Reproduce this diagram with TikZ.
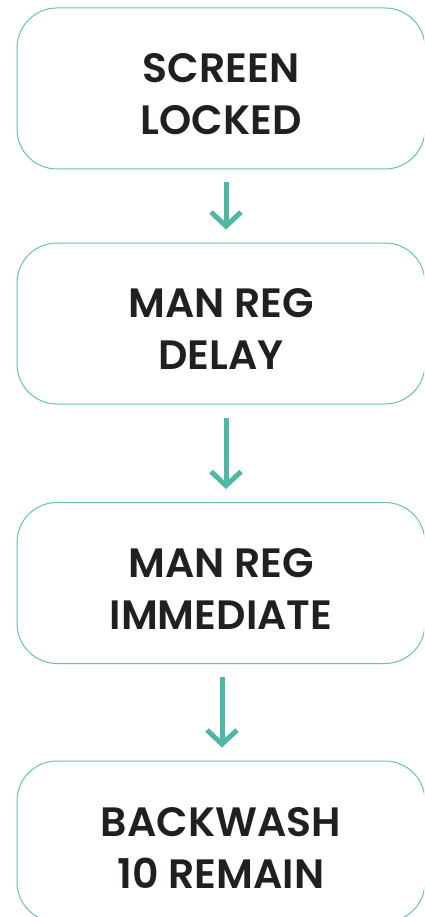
\documentclass[tikz,border=0pt]{standalone}
\usepackage{fontspec}
\setmainfont{Poppins}[BoldFont={Poppins SemiBold}]
\usetikzlibrary{arrows.meta}
\definecolor{boxline}{HTML}{66C3B5}
\definecolor{arrowc}{HTML}{4DB8A6}
\definecolor{txt}{HTML}{231F20}
\tikzset{
  stepbox/.style={draw=boxline, line width=1pt, rounded corners=40pt,
    minimum width=408pt, minimum height=161pt, inner sep=0pt},
  steptext/.style={align=center, text=txt, inner sep=0pt, yshift=-6pt,
    font=\fontsize{41}{52}\selectfont\bfseries},
  flowarrow/.style={draw=arrowc, line width=5pt,
    -{Straight Barb[length=14pt,width=30pt,line width=5pt]},
    shorten <=13pt, shorten >=13pt}
}
\begin{document}
\begin{tikzpicture}[x=1pt,y=-1pt]
\useasboundingbox (0,0) rectangle (424,917);
\clip (0,0) rectangle (424,917);
\fill[white] (0,0) rectangle (424,917);
\node[stepbox] (b1) at (221,88.5) {};
\node[stepbox] (b2) at (221,323.5) {};
\node[stepbox] (b3) at (221,583) {};
\node[stepbox] (b4) at (221,841.5) {};
\node[steptext] (t1) at (b1) {SCREEN\\LOCKED};
\node[steptext] (t2) at (b2) {MAN REG\\DELAY};
\node[steptext] (t3) at (b3) {MAN REG\\IMMEDIATE};
\node[steptext] (t4) at (b4) {BACKWASH\\10 REMAIN};
\draw[flowarrow] ([xshift=5pt]b1.south) -- ([xshift=5pt]b2.north);
\draw[flowarrow] ([xshift=5pt]b2.south) -- ([xshift=5pt]b3.north);
\draw[flowarrow] ([xshift=1pt]b3.south) -- ([xshift=1pt]b4.north);
\end{tikzpicture}
\end{document}
